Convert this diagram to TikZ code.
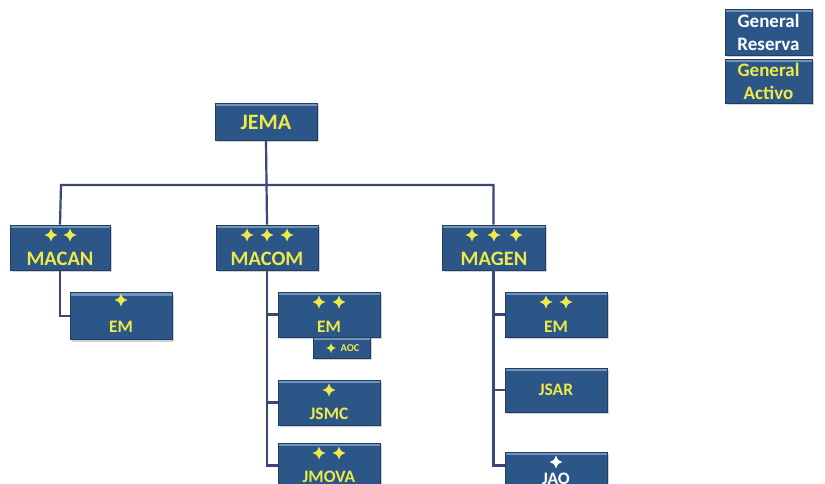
\documentclass[tikz,border=0pt]{standalone}
\usepackage{fontspec}
\setmainfont{Carlito}
\usetikzlibrary{shadows}
\definecolor{boxBlue}{HTML}{2D5688}
\definecolor{boxEdge}{HTML}{1F3C63}
\definecolor{boxTop}{HTML}{7393BA}
\definecolor{lineBlue}{HTML}{3A4677}
\definecolor{rankYellow}{HTML}{EDEA4A}
\tikzset{
  orgbox/.style={rectangle, fill=boxBlue, draw=boxEdge, line width=0.6pt,
    inner sep=0pt, minimum width=102pt, minimum height=45pt,
    drop shadow={shadow xshift=2pt, shadow yshift=-2pt, opacity=0.35},
    path picture={\fill[boxTop] (path picture bounding box.north west)
      rectangle ([yshift=-3pt]path picture bounding box.north east);}},
  lbl/.style={inner sep=0pt, text=rankYellow, font=\bfseries\fontsize{20.5}{22}\selectfont},
  smalllbl/.style={lbl, font=\bfseries\fontsize{17.5}{19}\selectfont},
  link/.style={draw=lineBlue, line width=2.2pt},
  ystar/.pic={\fill[rankYellow] (0,-6.5) .. controls (1.8,-1.8) .. (6.5,0) .. controls (1.8,1.8) .. (0,6.5)
     .. controls (-1.8,1.8) .. (-6.5,0) .. controls (-1.8,-1.8) .. cycle;},
  wstar/.pic={\fill[white] (0,-6.5) .. controls (1.8,-1.8) .. (6.5,0) .. controls (1.8,1.8) .. (0,6.5)
     .. controls (-1.8,1.8) .. (-6.5,0) .. controls (-1.8,-1.8) .. cycle;},
  sstar/.pic={\fill[rankYellow] (0,-5) .. controls (1.3,-1.3) .. (5,0) .. controls (1.3,1.3) .. (0,5)
     .. controls (-1.3,1.3) .. (-5,0) .. controls (-1.3,-1.3) .. cycle;}
}
\begin{document}
\begin{tikzpicture}[x=1pt, y=-1pt]
\clip (0,0) rectangle (825,484);
\fill[white] (0,0) rectangle (825,484);

% boxes
\node[orgbox, minimum height=37pt] (jema) at (266,122) {};
\node[orgbox, minimum width=100pt] (macan) at (60,247.5) {};
\node[orgbox] (macom) at (267,247.5) {};
\node[orgbox, minimum width=103pt] (magen) at (493.5,247.5) {};
\node[orgbox, minimum height=47pt] (macanem) at (121,316) {};
\node[orgbox] (macomem) at (329,314.5) {};
\node[orgbox, minimum width=57pt, minimum height=21pt] (aoc) at (341.5,347.5) {};
\node[orgbox] (jsmc) at (329,402.5) {};
\node[orgbox] (jmova) at (329,465.5) {};
\node[orgbox] (magenem) at (556,314.5) {};
\node[orgbox, minimum height=44pt] (jsar) at (556,390) {};
\node[orgbox] (jao) at (556,474.5) {};

% legend
\node[orgbox, minimum width=87pt, minimum height=46pt] (reserva) at (768.5,32) {};
\node[orgbox, minimum width=87pt, minimum height=44pt] (activo) at (768.5,81) {};

% connectors
\coordinate (barL) at (61,185);
\coordinate (barR) at (493.5,185);
\draw[link] (jema.south) -- (macom.north);
\draw[link] (macan.north) -- (barL) -- (barR) -- (magen.north);
\draw[link] (macan.south) |- (macanem.west);
\draw[link] (macom.south) |- (macomem.west);
\draw[link] (macom.south) |- (jsmc.west);
\draw[link] (macom.south) |- (jmova.west);
\draw[link] (magen.south) |- (magenem.west);
\draw[link] (magen.south) |- (jsar.west);
\draw[link] (magen.south) |- ([yshift=9pt]jao.west);

% labels
\node[lbl, font=\bfseries\fontsize{22}{24}\selectfont] (jemaT) at (266,122) {JEMA};
\node[lbl] (macanT) at (60,259) {MACAN};
\node[lbl] (macomT) at (267,259) {MACOM};
\node[lbl] (magenT) at (494,259) {MAGEN};
\node[smalllbl] (macanemT) at (121,327) {EM};
\node[smalllbl] (macomemT) at (329,327) {EM};
\node[lbl, font=\bfseries\fontsize{10.5}{12}\selectfont] (aocT) at (350,348) {AOC};
\node[smalllbl] (jsmcT) at (329,414) {JSMC};
\node[smalllbl] (jmovaT) at (329,477) {JMOVA};
\node[smalllbl] (magenemT) at (556,327) {EM};
\node[smalllbl] (jsarT) at (556,390) {JSAR};
\node[smalllbl, text=white] (jaoT) at (556,479) {JAO};
\node[lbl, text=white, align=center, font=\bfseries\fontsize{19}{23}\selectfont] (reservaT) at (768.5,32) {General\\Reserva};
\node[lbl, align=center, font=\bfseries\fontsize{19}{23}\selectfont] (activoT) at (768.5,81) {General\\Activo};

% rank insignia
\pic at (51,235) {ystar};
\pic at (70,235) {ystar};
\pic at (247,235) {ystar};
\pic at (267,235) {ystar};
\pic at (287,235) {ystar};
\pic at (472,235) {ystar};
\pic at (494,235) {ystar};
\pic at (516,235) {ystar};
\pic at (121,300) {ystar};
\pic at (319,302) {ystar};
\pic at (339,302) {ystar};
\pic at (331,348) {sstar};
\pic at (329,390) {ystar};
\pic at (319,453) {ystar};
\pic at (339,453) {ystar};
\pic at (546,302) {ystar};
\pic at (566,302) {ystar};
\pic at (556,462) {wstar};
\end{tikzpicture}
\end{document}
